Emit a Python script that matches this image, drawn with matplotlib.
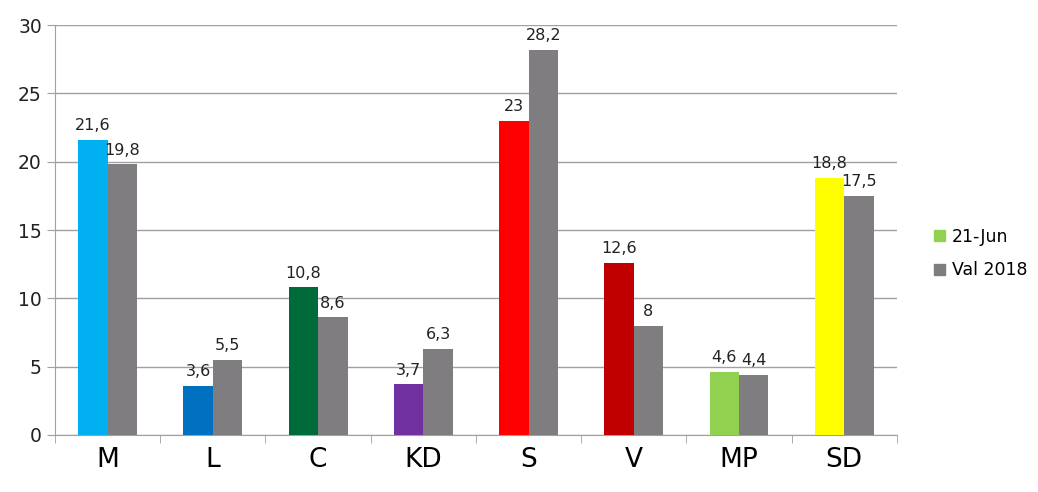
import matplotlib.pyplot as plt
import numpy as np

plt.rcParams['font.family'] = ['DejaVu Sans']

# party names and values
parties = ['M', 'L', 'C', 'KD', 'S', 'V', 'MP', 'SD']
jun21 = [21.6, 3.6, 10.8, 3.7, 23, 12.6, 4.6, 18.8]
val2018 = [19.8, 5.5, 8.6, 6.3, 28.2, 8, 4.4, 17.5]
party_colors = ['#00B0F0', '#0070C0', '#006B3A', '#7030A0',
                '#FF0000', '#C00000', '#92D050', '#FFFF00']
gray = '#7F7D80'

def fmt(v):
    s = ('%g' % v).replace('.', ',')
    return s

fig = plt.figure(figsize=(10.38, 4.92), dpi=100)
ax = fig.add_axes([0.053, 0.116, 0.811, 0.833])

x = np.arange(len(parties))
w = 0.28
b1 = ax.bar(x - w / 2, jun21, w, color=party_colors, label='21-Jun', zorder=3)
b2 = ax.bar(x + w / 2, val2018, w, color=gray, label='Val 2018', zorder=3)

for rect, v in zip(b1, jun21):
    ax.text(rect.get_x() + rect.get_width() / 2, v + 0.5, fmt(v),
            ha='center', va='bottom', fontsize=11.5, color='#222222')
for rect, v in zip(b2, val2018):
    ax.text(rect.get_x() + rect.get_width() / 2, v + 0.5, fmt(v),
            ha='center', va='bottom', fontsize=11.5, color='#222222')

ax.set_xlim(-0.5, len(parties) - 0.5)
ax.set_ylim(0, 30)
ax.set_yticks(range(0, 31, 5))
ax.set_xticks(x)
ax.set_xticklabels(parties, fontsize=19)
ax.set_xticks(np.arange(-0.5, len(parties), 1), minor=True)
ax.tick_params(axis='x', which='major', length=0, pad=9)
ax.tick_params(axis='x', which='minor', length=6, color='#A0A0A0')
ax.tick_params(axis='y', labelsize=13.5, length=6, color='#A0A0A0', labelcolor='#222222')
ax.yaxis.grid(True, color='#A0A0A0', linewidth=1, zorder=0)

for s in ['top', 'right']:
    ax.spines[s].set_visible(False)
for s in ['left', 'bottom']:
    ax.spines[s].set_color('#A0A0A0')

leg_handles = [plt.Rectangle((0, 0), 1, 1, color='#92D050'),
               plt.Rectangle((0, 0), 1, 1, color=gray)]
fig.legend(leg_handles, ['21-Jun', 'Val 2018'], loc='center left',
           bbox_to_anchor=(0.885, 0.485), frameon=False, fontsize=12.5,
           handlelength=0.6, handleheight=0.6, handletextpad=0.4,
           labelspacing=0.9)

fig.savefig('out.png', dpi=100)
